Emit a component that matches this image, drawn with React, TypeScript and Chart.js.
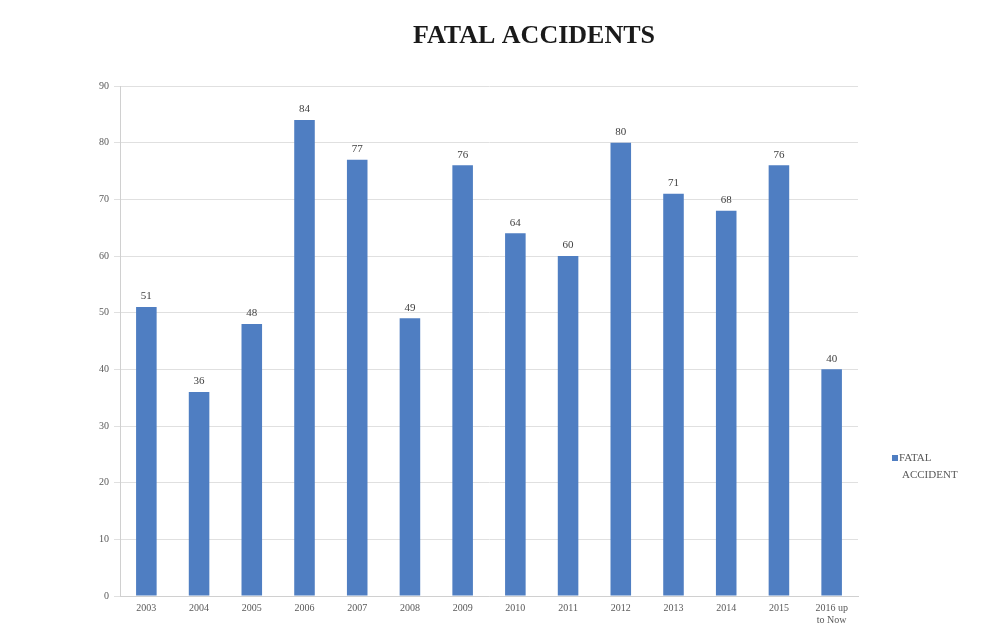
import React, { useEffect, useRef } from "react";
import { Chart, registerables } from "chart.js";

Chart.register(...registerables);

const categories: (string | string[])[] = [
  "2003", "2004", "2005", "2006", "2007", "2008", "2009", "2010",
  "2011", "2012", "2013", "2014", "2015", ["2016 up", "to Now"],
];
const fatalAccidents = [51, 36, 48, 84, 77, 49, 76, 64, 60, 80, 71, 68, 76, 40];
const seriesName = ["FATAL", "ACCIDENT"];
const chartTitle = "FATAL ACCIDENTS";
const yMax = 90;
const yStep = 10;

const SERIF = "'Liberation Serif', 'Times New Roman', serif";
const BAR_COLOR = "#4f7ec2";

const extrasPlugin = {
  id: "extras",
  afterDatasetsDraw(chart: any) {
    const ctx = chart.ctx;
    ctx.save();
    // data labels
    const meta = chart.getDatasetMeta(0);
    ctx.font = `11px ${SERIF}`;
    ctx.fillStyle = "#404040";
    ctx.textAlign = "center";
    ctx.textBaseline = "bottom";
    meta.data.forEach((bar: any, i: number) => {
      ctx.fillText(String(fatalAccidents[i]), bar.x, bar.y - 5);
    });
    // title
    ctx.font = `bold 26px ${SERIF}`;
    ctx.fillStyle = "#1a1a1a";
    ctx.textBaseline = "middle";
    ctx.fillText(chartTitle, 534, 36);
    // legend
    ctx.fillStyle = BAR_COLOR;
    ctx.fillRect(892, 455, 6, 6);
    ctx.font = `11px ${SERIF}`;
    ctx.fillStyle = "#595959";
    ctx.textAlign = "left";
    ctx.fillText(seriesName[0], 899, 458);
    ctx.fillText(seriesName[1], 902, 475);
    ctx.restore();
  },
};

export default function App() {
  const ref = useRef<HTMLCanvasElement | null>(null);
  useEffect(() => {
    if (!ref.current) return;
    const chart = new Chart(ref.current, {
      type: "bar",
      data: {
        labels: categories,
        datasets: [
          {
            label: seriesName.join(" "),
            data: fatalAccidents,
            backgroundColor: BAR_COLOR,
            barPercentage: 0.78,
            categoryPercentage: 0.5,
          },
        ],
      },
      options: {
        animation: false,
        responsive: false,
        layout: { padding: { top: 86, right: 147, bottom: 0, left: 0 } },
        plugins: {
          legend: { display: false },
          title: { display: false },
          tooltip: { enabled: false },
        },
        scales: {
          x: {
            grid: { display: false, drawTicks: false },
            border: { color: "#d0d0d0" },
            ticks: {
              color: "#595959",
              font: { family: SERIF, size: 10 },
              padding: 6,
              maxRotation: 0,
              autoSkip: false,
            },
            afterFit(scale: any) {
              scale.height = 42;
            },
          },
          y: {
            min: 0,
            max: yMax,
            ticks: {
              stepSize: yStep,
              color: "#595959",
              font: { family: SERIF, size: 10 },
              padding: 5,
            },
            grid: { color: "#e0e0e0", tickLength: 6 },
            border: { color: "#d0d0d0" },
            afterFit(scale: any) {
              scale.width = 120;
            },
          },
        },
      },
      plugins: [extrasPlugin],
    });
    return () => chart.destroy();
  }, []);
  return (
    <div style={{ position: "fixed", left: 0, top: 0, width: 1005, height: 638, background: "#fff" }}>
      <canvas ref={ref} width={1005} height={638} />
    </div>
  );
}
